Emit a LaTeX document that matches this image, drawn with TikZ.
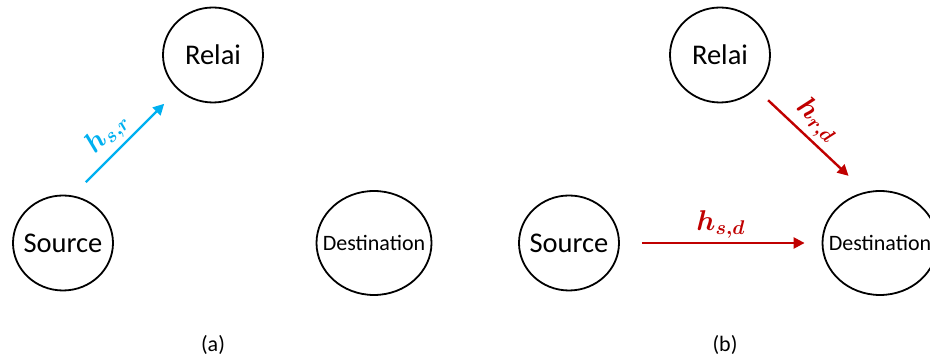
\documentclass[tikz,border=0pt]{standalone}
\usepackage{amsmath, amssymb}
\usepackage{fontspec}
\setmainfont{Carlito}
\usepackage{xcolor}
\usepackage{tikz}
\usetikzlibrary{shapes.geometric, arrows.meta, positioning}

\definecolor{linkblue}{HTML}{00B0F0}
\definecolor{linkred}{HTML}{C00000}

\begin{document}
\begin{tikzpicture}[
        x=1pt, y=1pt,
        terminal/.style={
            ellipse,
            draw=black,
            line width=1.8pt,
            inner xsep=-25pt,
            inner ysep=0pt,
            minimum width=100pt,
            minimum height=95pt,
            font=\fontsize{28.5}{32}\selectfont
        },
        smallterm/.style={
            terminal,
            minimum width=115pt,
            minimum height=104pt,
            font=\fontsize{22}{25}\selectfont
        },
        channel/.style={
            draw,
            line width=2.4pt,
            -{Triangle[length=11pt,width=11pt]}
        },
        gain/.style={
            font=\fontsize{24}{28}\selectfont,
            inner sep=3pt,
            scale=1.15
        },
        caption/.style={
            font=\fontsize{22}{25}\selectfont
        }
    ]
        \useasboundingbox (0,0) rectangle (930,358);

        % Nodes (a)
        \node [terminal] (relaiA) at (213,303) {Relai};
        \node [terminal] (srcA) at (63,115) {Source};
        \node [smallterm] (dstA) at (374,115) {Destination};
        \node [caption] (capA) at (213,13) {(a)};

        % Nodes (b)
        \node [terminal] (relaiB) at (720,303) {Relai};
        \node [terminal] (srcB) at (569,115) {Source};
        \node [smallterm] (dstB) at (880,115) {Destination};
        \node [caption] (capB) at (725,13) {(b)};

        % Edges
        \draw [channel, linkblue, shorten <=86pt, shorten >=69pt]
            ([xshift=-38pt]srcA.center) -- (relaiA.center)
            node [gain, sloped, above, pos=0.51] (hsr) {$\boldsymbol{h_{s,r}}$};
        \draw [channel, linkred, shorten <=22pt, shorten >=17pt]
            (srcB) -- (dstB)
            node [gain, midway, above] (hsd) {$\boldsymbol{h_{s,d}}$};
        \draw [channel, linkred, shorten <=66pt, shorten >=98pt]
            (relaiB.center) -- ([xshift=40pt]dstB.center)
            node [gain, sloped, above, pos=0.42] (hrd) {$\boldsymbol{h_{r,d}}$};

    \end{tikzpicture}
\end{document}
